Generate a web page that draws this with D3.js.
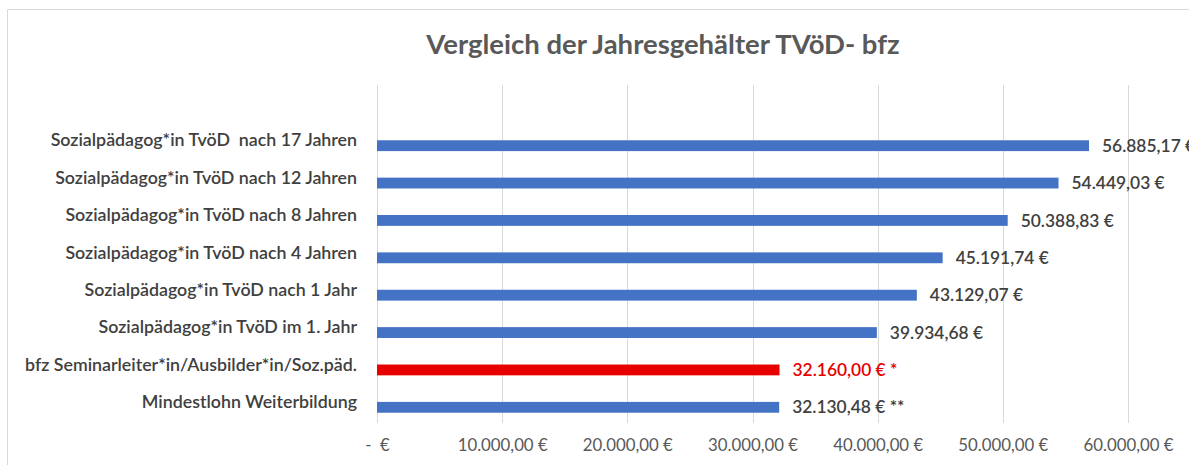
<!DOCTYPE html>
<html>
<head>
<meta charset="utf-8">
<script src="https://cdn.jsdelivr.net/npm/d3@7"></script>
<style>
  body { margin: 0; background: #fff; }
  #chart { width: 1189px; height: 465px; }
  text { font-family: Lato, "Open Sans", sans-serif; }
</style>
</head>
<body>
<div id="chart"></div>
<script>

var categories = [
    "Sozialpädagog*in TvöD  nach 17 Jahren",
    "Sozialpädagog*in TvöD nach 12 Jahren",
    "Sozialpädagog*in TvöD nach 8 Jahren",
    "Sozialpädagog*in TvöD nach 4 Jahren",
    "Sozialpädagog*in TvöD nach 1 Jahr",
    "Sozialpädagog*in TvöD im 1. Jahr",
    "bfz Seminarleiter*in/Ausbilder*in/Soz.päd.",
    "Mindestlohn Weiterbildung"
];
var values = [56885.17, 54449.03, 50388.83, 45191.74, 43129.07, 39934.68, 32160.00, 32130.48];
var notes = ["", "", "", "", "", "", " *", " **"];
var highlighted = ["bfz Seminarleiter*in/Ausbilder*in/Soz.päd."];
var tickValues = [0, 10000, 20000, 30000, 40000, 50000, 60000];

var width = 1189, height = 465;

var svg = d3.select("#chart")
    .append("svg")
    .attr("width", width)
    .attr("height", height);

// chart frame (right and bottom are outside the crop)
svg.append("path")
    .attr("d", "M7.5,470 V9.5 H1200")
    .attr("fill", "none")
    .attr("stroke", "#d9d9d9")
    .attr("stroke-width", 1);

svg.append("text")
    .attr("x", 663)
    .attr("y", 54)
    .attr("text-anchor", "middle")
    .attr("font-size", 27.5)
    .attr("font-weight", 700)
    .attr("fill", "#595959")
    .text("Vergleich der Jahresgehälter TVöD- bfz");

var de = d3.formatLocale({decimal: ",", thousands: ".", grouping: [3], currency: ["", " €"]});
var fmt = de.format(",.2f");
function euro(v) { return v === 0 ? "-  €" : fmt(v) + " €"; }

var x = d3.scaleLinear()
    .domain([0, 60000])
    .range([377, 1128]);

var y = d3.scaleBand()
    .domain(categories)
    .range([127, 426])
    .paddingInner(0.71)
    .paddingOuter(0.355);

// gridlines
svg.append("g")
    .selectAll("line")
    .data(tickValues)
    .enter()
    .append("line")
        .attr("x1", function(d){ return Math.round(x(d)) + 0.5; })
        .attr("x2", function(d){ return Math.round(x(d)) + 0.5; })
        .attr("y1", 85)
        .attr("y2", 423)
        .attr("stroke", "#d9d9d9")
        .attr("stroke-width", 1);

// x axis labels
var xAxis = d3.axisBottom(x)
    .tickValues(tickValues)
    .tickSize(0)
    .tickPadding(0)
    .tickFormat(euro);

var gx = svg.append("g")
    .attr("transform", "translate(0,439)")
    .call(xAxis);
gx.select(".domain").remove();
gx.selectAll("text")
    .attr("font-family", "Lato, 'Open Sans', sans-serif")
    .attr("font-size", 16.8)
    .attr("fill", "#595959")
    .attr("dy", "0.71em")
    .style("white-space", "pre");

// y axis labels
var yAxis = d3.axisLeft(y).tickSize(0).tickPadding(20);
var gy = svg.append("g")
    .attr("transform", "translate(377,0)")
    .call(yAxis);
gy.select(".domain").remove();
gy.selectAll("text")
    .attr("font-family", "Lato, 'Open Sans', sans-serif")
    .attr("font-size", 17.8)
    .attr("font-weight", 600)
    .attr("fill", "#404040")
    .attr("y", -5)
    .style("white-space", "pre");

var rows = categories.map(function(c, i){
    return {name: c, value: values[i], note: notes[i]};
});

svg.selectAll("rect.bar")
    .data(rows)
    .enter()
    .append("rect")
        .attr("class", "bar")
        .attr("x", x(0))
        .attr("y", function(d){ return y(d.name); })
        .attr("width", function(d){ return x(d.value) - x(0); })
        .attr("height", y.bandwidth())
        .attr("fill", function(d){ return highlighted.indexOf(d.name) >= 0 ? "#e60000" : "#4472c4"; });

svg.selectAll("text.val")
    .data(rows)
    .enter()
    .append("text")
        .attr("class", "val")
        .attr("x", function(d){ return x(d.value) + 13; })
        .attr("y", function(d){ return y(d.name) + y.bandwidth() / 2; })
        .attr("dy", "0.35em")
        .attr("font-size", 17.4)
        .attr("font-weight", 600)
        .attr("fill", function(d){ return highlighted.indexOf(d.name) >= 0 ? "#e60000" : "#404040"; })
        .text(function(d){ return euro(d.value) + d.note; });

</script>
</body>
</html>
